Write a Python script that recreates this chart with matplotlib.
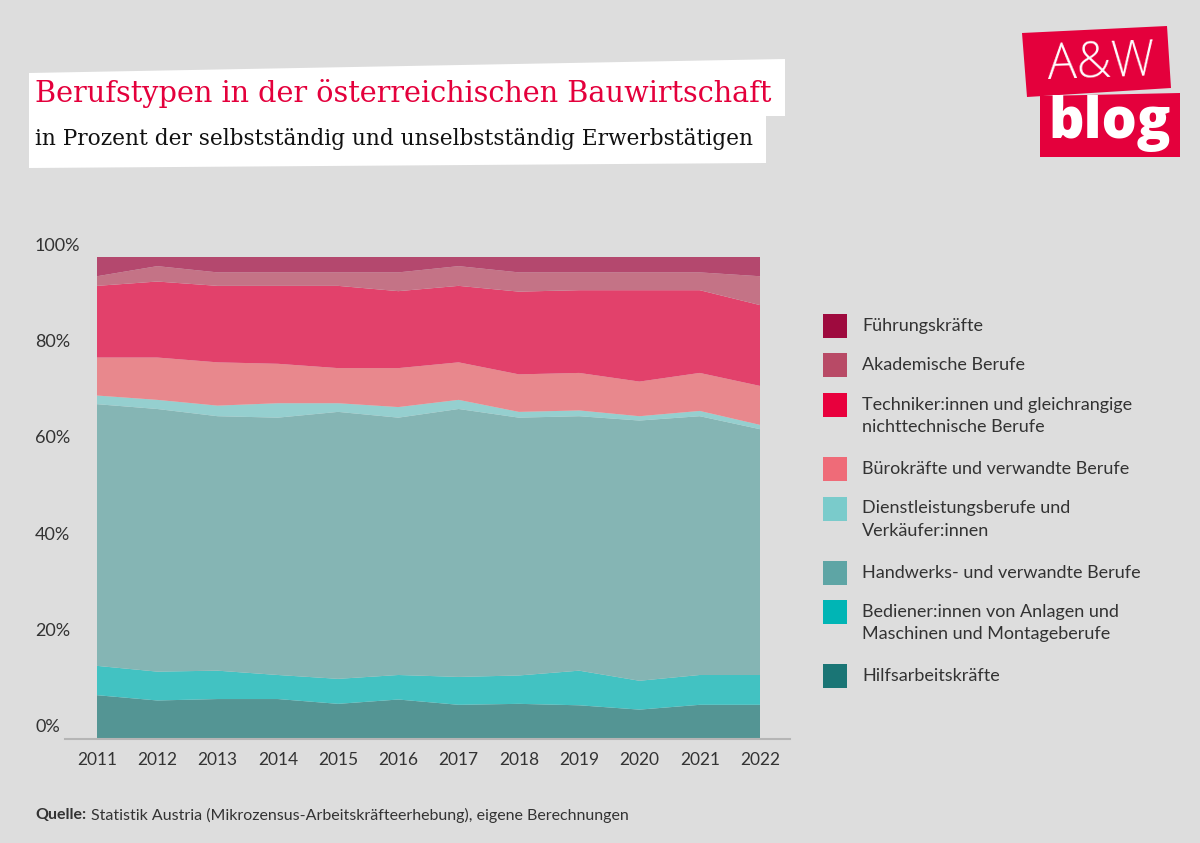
import numpy as np
import matplotlib.pyplot as plt
from matplotlib.patches import Polygon, Rectangle
from matplotlib.lines import Line2D
import matplotlib.transforms as mtransforms
from matplotlib import font_manager

# Daten (Anteile in %, von unten nach oben gestapelt)
jahre = [2011, 2012, 2013, 2014, 2015, 2016, 2017, 2018, 2019, 2020, 2021, 2022]
hilfsarbeit = [8.9, 7.8, 8.1, 8.1, 7.1, 8.0, 6.9, 7.1, 6.8, 5.9, 6.9, 6.9]
bediener = [6.1, 6.0, 5.9, 5.0, 5.2, 5.1, 5.8, 5.9, 7.2, 6.0, 6.2, 6.2]
handwerk = [54.4, 54.6, 52.9, 53.5, 55.5, 53.5, 55.7, 53.6, 52.9, 54.1, 53.8, 51.1]
dienstleistung = [1.8, 1.9, 2.2, 3.0, 1.8, 2.2, 1.9, 1.2, 1.2, 0.9, 1.1, 0.9]
buero = [7.9, 8.8, 9.0, 8.2, 7.3, 8.1, 7.8, 7.8, 7.8, 7.2, 7.9, 8.1]
techniker = [14.9, 15.8, 15.9, 16.2, 17.1, 16.0, 15.9, 17.2, 17.2, 19.0, 17.2, 16.8]
akademisch = [2.0, 3.2, 2.8, 2.8, 2.8, 3.9, 4.1, 4.0, 3.7, 3.7, 3.7, 6.0]
fuehrung = [4.0, 1.9, 3.2, 3.2, 3.2, 3.2, 1.9, 3.2, 3.2, 3.2, 3.2, 4.0]

reihen = [hilfsarbeit, bediener, handwerk, dienstleistung, buero, techniker, akademisch, fuehrung]
flaechen_farben = ["#549594", "#42c2c2", "#85b5b4", "#95cfcf", "#e8888d", "#e2416b", "#c47386", "#b4486e"]

legende_texte = [
    "Führungskräfte",
    "Akademische Berufe",
    "Techniker:innen und gleichrangige\nnichttechnische Berufe",
    "Bürokräfte und verwandte Berufe",
    "Dienstleistungsberufe und\nVerkäufer:innen",
    "Handwerks- und verwandte Berufe",
    "Bediener:innen von Anlagen und\nMaschinen und Montageberufe",
    "Hilfsarbeitskräfte",
]
legende_farben = ["#9e0a3e", "#b84a66", "#e8003d", "#ef6b78", "#7acbcb", "#5ea5a5", "#00b5b5", "#1a7575"]

y_ticks = [0, 20, 40, 60, 80, 100]

W, H = 1200, 843
bg = "#dddddd"
textfarbe = "#333333"
rot = "#e4003c"
sans = "Lato"

# schmale Serifenschrift, falls vorhanden
namen = {f.name for f in font_manager.fontManager.ttflist}
if "DejaVu Serif Condensed" in namen:
    serif, titel_gr, unter_gr = "DejaVu Serif Condensed", 23, 16.7
else:
    serif, titel_gr, unter_gr = "DejaVu Serif", 20.7, 15.6


def px(x, y):
    # Pixel (von oben links) -> Figure-Koordinaten
    return x / W, 1 - y / H


fig = plt.figure(figsize=(12, 8.43), dpi=100, facecolor=bg)

# Diagramm
l, b = px(97, 738)
r, t = px(760, 257)
ax = fig.add_axes([l, b, r - l, t - b])
ax.set_facecolor(bg)
ax.stackplot(jahre, *reihen, colors=flaechen_farben, linewidth=0)
ax.set_xlim(jahre[0], jahre[-1])
ax.set_ylim(0, 100)
for s in ax.spines.values():
    s.set_visible(False)
ax.set_yticks([])
ax.set_xticks(jahre)
ax.set_xticklabels([str(j) for j in jahre], fontsize=12.5, color=textfarbe, family=sans)
ax.tick_params(axis="x", length=0, pad=10)

# x-Achsenlinie
x0, y0 = px(65, 739)
x1, _ = px(790, 739)
fig.add_artist(Line2D([x0, x1], [y0, y0], color="#b5b5b5", lw=1.5))

# y-Beschriftungen (oberhalb der Linie)
trans = mtransforms.blended_transform_factory(fig.transFigure, ax.transData)
trans = trans + mtransforms.ScaledTranslation(0, 11 / 100, fig.dpi_scale_trans)
for v in y_ticks:
    ax.text(35 / W, v, f"{v}%", transform=trans, ha="left", va="center",
            fontsize=13, color=textfarbe, family=sans, clip_on=False)

# Titelbox
box = Polygon([px(29, 73), px(785, 59), px(785, 116), px(766, 116), px(766, 163), px(29, 168)],
              closed=True, facecolor="white", edgecolor="none", transform=fig.transFigure)
fig.add_artist(box)
fig.text(*px(35, 94), "Berufstypen in der österreichischen Bauwirtschaft",
         fontsize=titel_gr, color=rot, family=serif, ha="left", va="center")
fig.text(*px(35, 139), "in Prozent der selbstständig und unselbstständig Erwerbstätigen",
         fontsize=unter_gr, color="#111111", family=serif, ha="left", va="center")

# Logo
fig.add_artist(Polygon([px(1022, 33), px(1167, 26), px(1171, 88), px(1027, 97)],
                       closed=True, facecolor=rot, edgecolor="none", transform=fig.transFigure))
fig.add_artist(Polygon([px(1040, 96), px(1180, 93), px(1180, 157), px(1040, 157)],
                       closed=True, facecolor=rot, edgecolor="none", transform=fig.transFigure))
fig.text(*px(1101, 64), "A&W", fontsize=35, color="white", family="Open Sans",
         fontweight="light", ha="center", va="center", rotation=2)
fig.text(*px(1110, 123), "blog", fontsize=40, color="white", family="Open Sans",
         fontweight="heavy", ha="center", va="center")

# Legende
y = 326
for text, farbe in zip(legende_texte, legende_farben):
    sx, sy = px(823, y + 12)
    fig.add_artist(Rectangle((sx, sy), 24 / W, 24 / H, facecolor=farbe,
                             edgecolor="none", transform=fig.transFigure))
    fig.text(*px(862, y - 8), text, fontsize=13, color=textfarbe, family=sans,
             ha="left", va="top", linespacing=1.5)
    y += 39.5 + 24.5 * text.count("\n")

# Quelle
fig.text(*px(35, 815), "Quelle:", fontsize=11.5, color=textfarbe, family=sans,
         fontweight="bold", ha="left", va="center")
fig.text(*px(91, 815), "Statistik Austria (Mikrozensus-Arbeitskräfteerhebung), eigene Berechnungen",
         fontsize=11.5, color=textfarbe, family=sans, ha="left", va="center")

fig.savefig("out.png", dpi=100, facecolor=bg)
